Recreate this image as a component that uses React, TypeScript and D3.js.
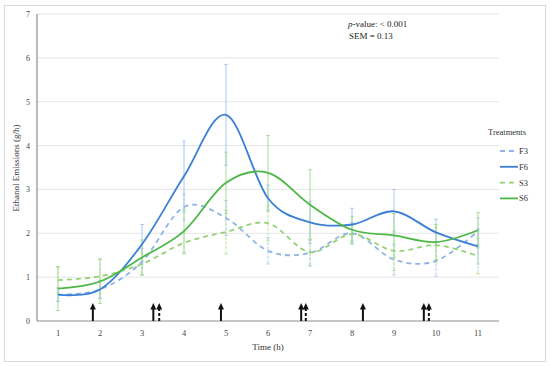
import * as d3 from "d3";

const hours = [1, 2, 3, 4, 5, 6, 7, 8, 9, 10, 11];
const yTicks = [0, 1, 2, 3, 4, 5, 6, 7];

// treatment means (g/h)
const f3 = [0.6, 0.72, 1.35, 2.6, 2.35, 1.6, 1.55, 2.0, 1.4, 1.37, 2.05];
const f6 = [0.6, 0.72, 1.75, 3.3, 4.7, 2.8, 2.25, 2.2, 2.5, 2.02, 1.7];
const s3 = [0.93, 1.02, 1.3, 1.78, 2.03, 2.23, 1.57, 1.98, 1.6, 1.73, 1.48];
const s6 = [0.74, 0.9, 1.45, 2.05, 3.15, 3.38, 2.65, 2.08, 1.95, 1.8, 2.07];

// error bar half widths
const f3Err = [0.15, 0.2, 0.3, 0.3, 0.4, 0.3, 0.3, 0.25, 0.35, 0.35, 0.3];
const f6Err = [0.15, 0.2, 0.45, 0.8, 1.15, 0.3, 0.48, 0.37, 0.5, 0.3, 0.4];
const s3Err = [0.3, 0.4, 0.25, 0.25, 0.5, 0.4, 0.3, 0.2, 0.45, 0.4, 0.4];
const s6Err = [0.5, 0.5, 0.4, 0.5, 0.7, 0.85, 0.8, 0.3, 0.5, 0.4, 0.4];

// feeding events (h)
const solidArrows = [1.83, 3.27, 4.88, 6.79, 8.26, 9.71];
const dashedArrows = [3.41, 6.9, 9.83];

const series = [
  { name: "F3", values: f3, err: f3Err, color: "#8fb4e6", errColor: "#b3cdf0", dash: "5,4" },
  { name: "F6", values: f6, err: f6Err, color: "#3a7fd6", errColor: "#a9c7ef", dash: null },
  { name: "S3", values: s3, err: s3Err, color: "#95d275", errColor: "#b7e2a3", dash: "5,4" },
  { name: "S6", values: s6, err: s6Err, color: "#4cb848", errColor: "#a6dc98", dash: null },
];

const font = "'Liberation Serif', 'DejaVu Serif', serif";

export default function App() {
  const width = 550;
  const height = 366;

  const x = d3.scaleLinear().domain([0.5, 11.5]).range([37, 499]);
  const y = d3.scaleLinear().domain([0, 7]).range([321, 14]);

  const line = d3
    .line<number>()
    .x((_, i) => x(hours[i]))
    .y((d) => y(d))
    .curve(d3.curveCatmullRom.alpha(0));

  const arrow = (t: number, dashed: boolean, key: string) => {
    const px = x(t);
    const base = y(0);
    const tip = base - 18;
    return (
      <g key={key}>
        <line
          x1={px}
          x2={px}
          y1={base}
          y2={tip + 5}
          stroke="#111"
          strokeWidth={2}
          strokeDasharray={dashed ? "3,2" : undefined}
        />
        <path d={`M${px - 3},${tip + 6.5}L${px},${tip}L${px + 3},${tip + 6.5}Z`} fill="#111" />
      </g>
    );
  };

  return (
    <svg
      width={width}
      height={height}
      style={{ position: "absolute", left: 0, top: 0, background: "#fff" }}
      fontFamily={font}
    >
      <rect x={4.5} y={5.5} width={541} height={356} fill="#fff" stroke="#d9d9d9" />

      {/* grid */}
      {yTicks.slice(1).map((t) => (
        <line key={t} x1={x(0.5)} x2={x(11.5)} y1={y(t)} y2={y(t)} stroke="#e6e6e6" />
      ))}

      {/* axes */}
      <line x1={x(0.5)} x2={x(0.5)} y1={y(0)} y2={y(7)} stroke="#8c8c8c" strokeWidth={1.2} />
      <line x1={x(0.5)} x2={x(11.5)} y1={y(0)} y2={y(0)} stroke="#8c8c8c" strokeWidth={1} />

      {yTicks.map((t) => (
        <text key={t} x={28} y={y(t) + 3} fontSize={8} textAnchor="middle" fill="#444">
          {t}
        </text>
      ))}
      {hours.map((h) => (
        <text key={h} x={x(h)} y={336} fontSize={8.5} textAnchor="middle" fill="#444">
          {h}
        </text>
      ))}

      <text x={268} y={350} fontSize={9} textAnchor="middle" fill="#333">
        Time (h)
      </text>
      <text
        transform={`translate(19,${168}) rotate(-90)`}
        fontSize={9}
        textAnchor="middle"
        fill="#333"
      >
        Ethanol Emissions (g/h)
      </text>

      {/* error bars */}
      {series.map((s) =>
        s.values.map((v, i) => {
          const px = x(hours[i]);
          const top = y(v + s.err[i]);
          const bot = y(Math.max(0, v - s.err[i]));
          return (
            <g key={s.name + i} stroke={s.errColor} strokeWidth={1}>
              <line x1={px} x2={px} y1={top} y2={bot} strokeDasharray={s.dash ? "3,1.5" : undefined} />
              <line x1={px - 1.8} x2={px + 1.8} y1={top} y2={top} />
              <line x1={px - 1.8} x2={px + 1.8} y1={bot} y2={bot} />
            </g>
          );
        })
      )}

      {/* series lines */}
      {series.map((s) => (
        <path
          key={s.name}
          d={line(s.values) || ""}
          fill="none"
          stroke={s.color}
          strokeWidth={1.8}
          strokeDasharray={s.dash || undefined}
        />
      ))}

      {/* arrows */}
      {solidArrows.map((t, i) => arrow(t, false, "s" + i))}
      {dashedArrows.map((t, i) => arrow(t, true, "d" + i))}

      {/* annotation */}
      <text x={348} y={27} fontSize={9} fill="#222">
        <tspan fontStyle="italic">p</tspan>-value: &lt; 0.001
      </text>
      <text x={349} y={39} fontSize={9} fill="#222">
        SEM = 0.13
      </text>

      {/* legend */}
      <text x={488} y={135} fontSize={8.5} fill="#333">
        Treatments
      </text>
      {series.map((s, i) => {
        const ly = 151 + i * 15.8;
        return (
          <g key={s.name}>
            <line
              x1={500}
              x2={518}
              y1={ly}
              y2={ly}
              stroke={s.color}
              strokeWidth={1.8}
              strokeDasharray={s.dash || undefined}
            />
            <text x={519} y={ly + 3} fontSize={8.5} fill="#333">
              {s.name}
            </text>
          </g>
        );
      })}
    </svg>
  );
}
